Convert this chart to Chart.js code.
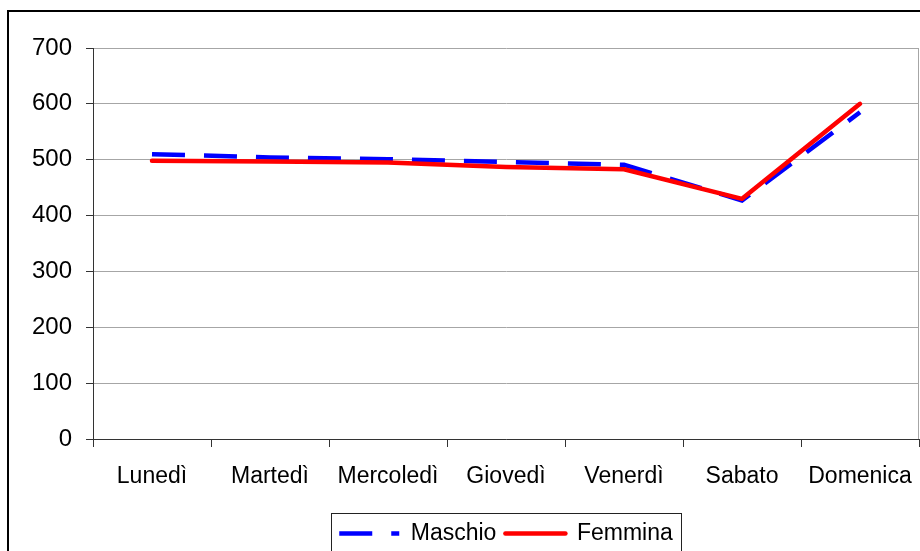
<!DOCTYPE html>
<html>
<head>
<meta charset="utf-8">
<script src="https://cdn.jsdelivr.net/npm/chart.js@4"></script>
<style>
  html, body { margin: 0; padding: 0; background: #fff; overflow: hidden; }
  #wrap { width: 920px; height: 555px; }
</style>
</head>
<body>
<div id="wrap"><canvas id="giorni" width="920" height="555"></canvas></div>
<script>
// data
var giorni = ['Lunedì', 'Martedì', 'Mercoledì', 'Giovedì', 'Venerdì', 'Sabato', 'Domenica'];
var maschio = [510, 504, 501, 496, 491, 427, 585];
var femmina = [498, 497, 495, 487, 483, 430, 600];
var yTicks = [0, 100, 200, 300, 400, 500, 600, 700];

var FONT = { family: '"Liberation Sans", Arial, sans-serif', size: 23 };
var FONT_Y = { family: '"Liberation Sans", Arial, sans-serif', size: 24 };

// outer frame, right border of plot area, box round the legend
var cornici = {
    id: 'cornici',
    beforeDatasetsDraw(chart) {
        const { ctx, chartArea: { top, bottom, right } } = chart;
        ctx.save();
        ctx.strokeStyle = '#a6a6a6';
        ctx.lineWidth = 1;
        ctx.beginPath();
        ctx.moveTo(right - 0.5, top);
        ctx.lineTo(right - 0.5, bottom);
        ctx.stroke();
        ctx.restore();
    },
    afterDraw(chart) {
        const ctx = chart.ctx;
        ctx.save();
        ctx.strokeStyle = '#000';
        ctx.lineWidth = 2;
        ctx.strokeRect(8, 11, 1000, 1000);

        const boxes = chart.legend.legendHitBoxes;
        if (boxes && boxes.length) {
            const first = boxes[0];
            const last = boxes[boxes.length - 1];
            const l = first.left - 8;
            const r = last.left + last.width + 9;
            ctx.lineWidth = 1;
            ctx.strokeStyle = '#222';
            ctx.strokeRect(Math.round(l) + 0.5, chart.legend.top + 0.5, Math.round(r - l), 100);
        }
        ctx.restore();
    }
};

var config = {
    type: 'line',
    data: {
        labels: giorni,
        datasets: [{
            label: 'Maschio',
            data: maschio,
            borderColor: '#0000ff',
            backgroundColor: '#0000ff',
            borderWidth: 4.5,
            borderDash: [33, 19],
            borderCapStyle: 'butt',
            pointRadius: 0,
            tension: 0,
            order: 1
        }, {
            label: 'Femmina',
            data: femmina,
            borderColor: '#ff0000',
            backgroundColor: '#ff0000',
            borderWidth: 4.5,
            borderCapStyle: 'round',
            borderJoinStyle: 'round',
            pointRadius: 0,
            tension: 0,
            order: 0
        }]
    },
    options: {
        responsive: false,
        animation: false,
        devicePixelRatio: 1,
        layout: { padding: { top: 48, right: 1, left: 0, bottom: 0 } },
        scales: {
            x: {
                offset: true,
                grid: {
                    offset: true,
                    drawOnChartArea: false,
                    tickLength: 8,
                    tickColor: '#333'
                },
                border: { color: '#333', width: 1 },
                ticks: { font: FONT, color: '#000', padding: 16, maxRotation: 0, autoSkip: false },
                afterFit(scale) {
                    scale.height = 74;
                    scale.paddingLeft = 0;
                    scale.paddingRight = 0;
                }
            },
            y: {
                min: 0,
                max: 700,
                afterBuildTicks(scale) { scale.ticks = yTicks.map(v => ({ value: v })); },
                grid: {
                    color: '#a6a6a6',
                    tickColor: '#333',
                    tickLength: 7
                },
                border: { color: '#333', width: 1 },
                ticks: { font: FONT_Y, color: '#000', padding: 14 },
                afterFit(scale) { scale.width = 93; }
            }
        },
        plugins: {
            legend: {
                position: 'bottom',
                fullSize: false,
                labels: {
                    font: FONT,
                    color: '#000',
                    usePointStyle: true,
                    pointStyle: 'line',
                    pointStyleWidth: 60,
                    padding: 9,
                    sort: (a, b) => a.datasetIndex - b.datasetIndex,
                    generateLabels(chart) {
                        const items = Chart.defaults.plugins.legend.labels.generateLabels(chart);
                        items.forEach(item => {
                            const ds = chart.data.datasets[item.datasetIndex];
                            item.lineDash = ds.borderDash || [];
                            item.lineWidth = ds.borderWidth;
                            item.lineCap = ds.borderCapStyle;
                            item.strokeStyle = ds.borderColor;
                        });
                        return items;
                    }
                }
            },
            tooltip: { enabled: false }
        }
    },
    plugins: [cornici]
};

const graficoGiorni = new Chart(document.getElementById('giorni'), config);
</script>
</body>
</html>
